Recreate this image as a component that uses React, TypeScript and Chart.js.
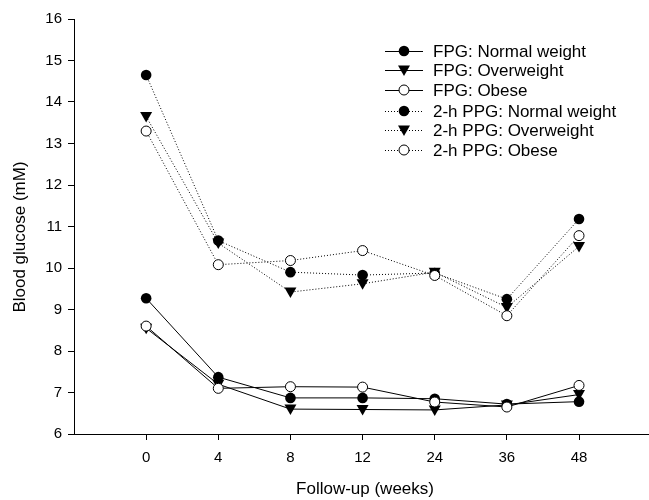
import React, { useEffect, useRef } from "react";
import { Chart, registerables } from "chart.js";

Chart.register(...registerables);

const weeks = ["0", "4", "8", "12", "24", "36", "48"];
const fpgNormal = [9.27, 7.37, 6.87, 6.87, 6.85, 6.72, 6.78];
const fpgOver = [8.55, 7.2, 6.6, 6.59, 6.58, 6.7, 6.95];
const fpgObese = [8.6, 7.1, 7.14, 7.13, 6.77, 6.65, 7.17];
const ppgNormal = [14.65, 10.66, 9.9, 9.83, 9.88, 9.25, 11.18];
const ppgOver = [13.65, 10.6, 9.42, 9.62, 9.9, 9.05, 10.52];
const ppgObese = [13.3, 10.08, 10.18, 10.42, 9.82, 8.85, 10.78];
const yTicks = [6, 7, 8, 9, 10, 11, 12, 13, 14, 15, 16];

const seriesNames = [
  "FPG: Normal weight",
  "FPG: Overweight",
  "FPG: Obese",
  "2-h PPG: Normal weight",
  "2-h PPG: Overweight",
  "2-h PPG: Obese",
];
const yTitle = "Blood glucose (mM)";
const xTitle = "Follow-up (weeks)";

const FONT = "'Liberation Sans', Arial, sans-serif";

type Marker = "filled" | "tri" | "open";

function drawMarker(ctx: CanvasRenderingContext2D, m: Marker, x: number, y: number) {
  ctx.save();
  ctx.setLineDash([]);
  ctx.lineWidth = 1;
  ctx.strokeStyle = "#000";
  if (m === "filled") {
    ctx.beginPath();
    ctx.arc(x, y, 5.3, 0, Math.PI * 2);
    ctx.fillStyle = "#000";
    ctx.fill();
  } else if (m === "open") {
    ctx.beginPath();
    ctx.arc(x, y, 5, 0, Math.PI * 2);
    ctx.fillStyle = "#fff";
    ctx.fill();
    ctx.stroke();
  } else {
    ctx.beginPath();
    ctx.moveTo(x - 6, y - 4.5);
    ctx.lineTo(x + 6, y - 4.5);
    ctx.lineTo(x, y + 6);
    ctx.closePath();
    ctx.fillStyle = "#000";
    ctx.fill();
  }
  ctx.restore();
}

const markers: Marker[] = ["filled", "tri", "open", "filled", "tri", "open"];
const dashes: number[][] = [[], [], [], [1, 2], [1, 2], [1, 2]];

const legendPlugin = {
  id: "customLegend",
  afterDraw(chart: any) {
    const ctx: CanvasRenderingContext2D = chart.ctx;
    const rows = [51, 70, 90, 111, 130, 150];
    ctx.save();
    seriesNames.forEach((name, i) => {
      const y = rows[i];
      ctx.beginPath();
      ctx.setLineDash(dashes[i]);
      ctx.lineWidth = 1;
      ctx.strokeStyle = "#000";
      ctx.moveTo(385, y + 0.5);
      ctx.lineTo(423, y + 0.5);
      ctx.stroke();
      drawMarker(ctx, markers[i], 404, y);
      ctx.setLineDash([]);
      ctx.fillStyle = "#000";
      ctx.font = `17px ${FONT}`;
      ctx.textBaseline = "middle";
      ctx.textAlign = "left";
      ctx.fillText(name, 433, y + 1);
    });
    // axis titles
    ctx.font = `17px ${FONT}`;
    ctx.textAlign = "center";
    ctx.textBaseline = "middle";
    ctx.fillText(xTitle, 365, 489);
    ctx.save();
    ctx.translate(20, 237);
    ctx.rotate(-Math.PI / 2);
    ctx.fillText(yTitle, 0, 0);
    ctx.restore();
    // x axis line across full width
    const ca = chart.chartArea;
    const yb = Math.round(ca.bottom) + 0.5;
    ctx.beginPath();
    ctx.strokeStyle = "#000";
    ctx.lineWidth = 1;
    ctx.moveTo(ca.left, yb);
    ctx.lineTo(chart.width, yb);
    ctx.stroke();
    ctx.restore();
  },
};

const markerPlugin = {
  id: "markers",
  afterDatasetsDraw(chart: any) {
    const ctx = chart.ctx;
    chart.data.datasets.forEach((ds: any, i: number) => {
      const meta = chart.getDatasetMeta(i);
      meta.data.forEach((pt: any) => drawMarker(ctx, markers[i], pt.x, pt.y));
    });
  },
};

export default function App() {
  const ref = useRef<HTMLCanvasElement>(null);
  useEffect(() => {
    const all = [fpgNormal, fpgOver, fpgObese, ppgNormal, ppgOver, ppgObese];
    const chart = new Chart(ref.current!, {
      type: "line",
      data: {
        datasets: all.map((arr, i) => ({
          label: seriesNames[i],
          data: arr.map((v, j) => ({ x: j, y: v })),
          borderColor: "#000",
          borderWidth: 1,
          borderDash: dashes[i],
          pointRadius: 0,
          fill: false,
          tension: 0,
        })),
      },
      options: {
        animation: false,
        responsive: false,
        maintainAspectRatio: false,
        layout: { padding: { left: 0, top: 19, right: 0, bottom: 0 } },
        plugins: { legend: { display: false }, tooltip: { enabled: false } },
        scales: {
          x: {
            type: "linear",
            min: -1,
            max: 6.97,
            afterBuildTicks: (s: any) => {
              s.ticks = weeks.map((_, i) => ({ value: i }));
            },
            afterFit: (s: any) => {
              s.height = 66;
            },
            ticks: {
              callback: (v: any) => weeks[v as number] ?? "",
              color: "#000",
              font: { family: FONT, size: 15 },
              padding: 9,
              maxRotation: 0,
              autoSkip: false,
            },
            grid: { display: true, drawOnChartArea: false, drawTicks: true, tickLength: 6, color: "#000", lineWidth: 1 },
            border: { display: true, color: "#000", width: 1 },
            title: { display: false },
          },
          y: {
            type: "linear",
            min: 6,
            max: 16,
            afterBuildTicks: (s: any) => {
              s.ticks = yTicks.map((v) => ({ value: v }));
            },
            afterFit: (s: any) => {
              s.width = 74;
            },
            ticks: {
              color: "#000",
              font: { family: FONT, size: 15 },
              padding: 6,
            },
            grid: { display: true, drawOnChartArea: false, drawTicks: true, tickLength: 6, color: "#000", lineWidth: 1 },
            border: { display: true, color: "#000", width: 1 },
            title: { display: false },
          },
        },
      },
      plugins: [markerPlugin, legendPlugin],
    } as any);
    return () => chart.destroy();
  }, []);
  return (
    <div style={{ position: "fixed", left: 0, top: 0, width: 649, height: 500, background: "#fff" }}>
      <canvas ref={ref} width={649} height={500} style={{ width: 649, height: 500 }} />
    </div>
  );
}
